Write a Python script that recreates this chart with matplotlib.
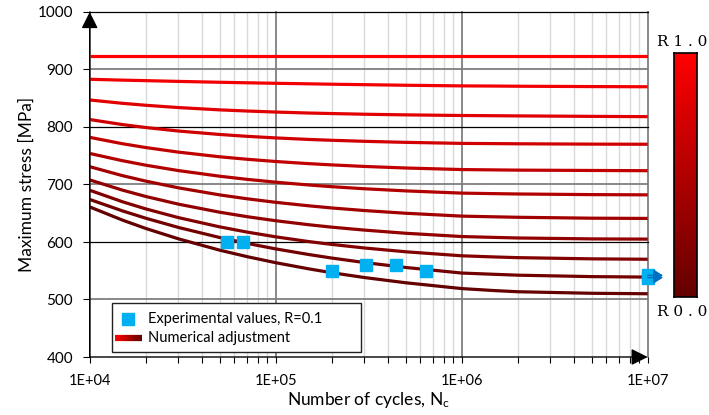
import numpy as np
import matplotlib
matplotlib.use('Agg')
import matplotlib.pyplot as plt
from matplotlib.colors import LinearSegmentedColormap
from matplotlib.collections import LineCollection
from matplotlib.patches import Rectangle
from matplotlib.transforms import offset_copy

plt.rcParams['font.family'] = ['Lato', 'DejaVu Sans']
plt.rcParams['mathtext.default'] = 'regular'

# fatigue curves, one per stress ratio R
cycles = [1e4, 1.5e4, 2e4, 3e4, 5e4, 7e4, 1e5, 1.5e5, 2e5, 3e5, 5e5,
          1e6, 1.5e6, 2e6, 5e6, 1e7]
r_values = [1.0, 0.9, 0.8, 0.7, 0.6, 0.5, 0.4, 0.3, 0.2, 0.1, 0.0]
stress_r10 = [924] * 16
stress_r09 = [883, 881.5, 880.6, 879.3, 877.8, 876.9, 876, 875.1, 874.4, 873.6, 872.6,
              871.5, 871.2, 870.9, 870.3, 870]
stress_r08 = [847, 841.2, 837.8, 833.8, 829.8, 827.8, 826, 824.3, 823.4, 822.2, 821.1,
              820, 819.6, 819.3, 818.5, 818]
stress_r07 = [813, 804.2, 799.1, 793.0, 787.0, 783.8, 781, 778.4, 776.9, 775.1, 773.3,
              771.5, 771.1, 770.8, 770.2, 770]
stress_r06 = [782, 770.9, 764.3, 756.3, 748.2, 743.9, 740, 736.3, 734.1, 731.4, 728.7,
              726, 725.4, 725, 724.4, 724]
stress_r05 = [754, 741.4, 733.6, 724.2, 714.4, 709.0, 704, 699.2, 696.2, 692.6, 688.9,
              685, 684.1, 683.5, 682.4, 682]
stress_r04 = [731, 715.4, 705.9, 694.2, 681.9, 675.2, 669, 663.0, 659.2, 654.7, 650.0,
              645, 643.8, 643, 641.4, 641]
stress_r03 = [708, 690.2, 679.2, 665.8, 651.8, 644.1, 637, 630.1, 625.8, 620.7, 615.2,
              609.5, 608, 607, 605.4, 605]
stress_r02 = [690, 670.0, 657.6, 642.4, 626.3, 617.3, 609, 600.8, 595.8, 589.6, 583.0,
              576, 574, 572.8, 570.7, 570]
stress_r01 = [674, 654.1, 641.4, 625.3, 607.8, 597.7, 588, 578.3, 572.1, 564.3, 555.7,
              546, 543.8, 542.3, 539.8, 539]
stress_r00 = [661, 638.1, 623.6, 605.5, 585.8, 574.6, 564, 553.4, 546.6, 538.2, 529.1,
              519, 515.5, 513.5, 510.8, 510]
curves = [stress_r10, stress_r09, stress_r08, stress_r07, stress_r06, stress_r05,
          stress_r04, stress_r03, stress_r02, stress_r01, stress_r00]

# experimental values, R=0.1
exp_cycles = [5.45e4, 6.7e4, 2.0e5, 3.06e5, 4.43e5, 6.4e5]
exp_stress = [600, 600, 550, 560, 560, 550]
runout_cycles = [1e7, 1e7]
runout_stress = [542, 538]

W, H = 709, 415
fig = plt.figure(figsize=(W / 100, H / 100), dpi=100)

def fx(x):
    return x / W

def fy(y):
    return 1 - y / H

ax = fig.add_axes([fx(89.7), fy(357), fx(647.7) - fx(89.7), fy(12) - fy(357)])
ax.set_xscale('log')
ax.set_xlim(1e4, 1e7)
ax.set_ylim(400, 1000)

cmap = LinearSegmentedColormap.from_list('rr', ['#640000', '#ff0000'])

# grid
for d in range(4, 7):
    for k in range(2, 10):
        ax.axvline(k * 10 ** d, color='#d9d9d9', lw=1.0, zorder=0)
for xv in [1e4, 1e5, 1e6, 1e7]:
    ax.axvline(xv, color='#7f7f7f', lw=1.3, zorder=0.5, clip_on=False)
for yv in [500, 700, 900]:
    ax.axhline(yv, color='#7f7f7f', lw=1.3, zorder=0.5)
for yv in [600, 800, 1000]:
    ax.axhline(yv, color='black', lw=0.9, zorder=0.6, clip_on=False)

for r, s in zip(r_values, curves):
    ax.plot(cycles, s, color=cmap(r), lw=2.3, zorder=2, solid_capstyle='butt')

ax.plot(exp_cycles, exp_stress, 's', color='#00b0f0', ms=8, zorder=4)
ax.plot(runout_cycles, runout_stress, 's', color='#00b0f0', ms=8, zorder=4, clip_on=False)
for xr, sr in zip(runout_cycles, runout_stress):
    trans = offset_copy(ax.transData, fig=fig, x=11, y=0, units='points')
    ax.annotate('', xy=(xr, sr), xycoords=trans, xytext=(xr, sr), textcoords='data',
                arrowprops=dict(arrowstyle='-|>,head_length=0.4,head_width=0.25',
                                color='#0070c0', lw=1.0, shrinkA=0, shrinkB=0,
                                mutation_scale=14),
                annotation_clip=False, zorder=5)

# axes with arrow heads
for s in ax.spines.values():
    s.set_visible(False)
arrow = dict(arrowstyle='-|>,head_length=0.4,head_width=0.2', color='black', lw=1.0,
             shrinkA=0, shrinkB=0, mutation_scale=25)
ax.annotate('', xy=(1e4, 1000), xytext=(1e4, 400), arrowprops=arrow, annotation_clip=False, zorder=6)
ax.annotate('', xy=(1e7, 400), xytext=(1e4, 400), arrowprops=arrow, annotation_clip=False, zorder=6)

ax.set_xticks([1e4, 1e5, 1e6, 1e7])
ax.set_xticklabels(['1E+04', '1E+05', '1E+06', '1E+07'])
ax.set_yticks([400, 500, 600, 700, 800, 900, 1000])
ax.tick_params(axis='x', which='both', direction='out', length=4, width=0.8,
               labelsize=10.5, pad=8)
ax.tick_params(axis='y', which='major', direction='out', length=5, width=0.8,
               labelsize=11, pad=7)
ax.set_xlabel('Number of cycles, N$_c$', fontsize=12.5, labelpad=2)
ax.set_ylabel('Maximum stress [MPa]', fontsize=12.5, labelpad=2)

# legend drawn by hand
fig.patches.append(Rectangle((fx(111.7), fy(351.7)), fx(361) - fx(111.7), fy(303.3) - fy(351.7),
                             transform=fig.transFigure, facecolor='white',
                             edgecolor='#222222', lw=1.0, zorder=7))
fig.lines.append(matplotlib.lines.Line2D([fx(128)], [fy(319)], marker='s', ms=8,
                                         color='#00b0f0', transform=fig.transFigure, zorder=8))
fig.text(fx(148), fy(319), 'Experimental values, R=0.1', fontsize=10.5, va='center',
         ha='left', zorder=8)
n = 40
xs = np.linspace(fx(115), fx(141.7), n + 1)
segs = [[(xs[i], fy(337.7)), (xs[i + 1], fy(337.7))] for i in range(n)]
lc = LineCollection(segs, colors=[cmap(1 - i / (n - 1)) for i in range(n)], lw=4.5,
                    transform=fig.transFigure, zorder=8)
fig.add_artist(lc)
fig.text(fx(148), fy(337.7), 'Numerical adjustment', fontsize=10.5, va='center',
         ha='left', zorder=8)

# colour bar for R
cax = fig.add_axes([fx(674), fy(296.7), fx(696.7) - fx(674), fy(53.3) - fy(296.7)])
cax.imshow(np.linspace(1, 0, 256).reshape(-1, 1), cmap=cmap, aspect='auto',
           extent=[0, 1, 0, 1])
cax.set_xticks([])
cax.set_yticks([])
for s in cax.spines.values():
    s.set_linewidth(1.2)
fig.text(fx(682), fy(42.5), 'R 1 . 0', family='DejaVu Serif', fontsize=11,
         ha='center', va='center')
fig.text(fx(682), fy(311.5), 'R 0 . 0', family='DejaVu Serif', fontsize=11,
         ha='center', va='center')

fig.savefig('out.png', dpi=100)
